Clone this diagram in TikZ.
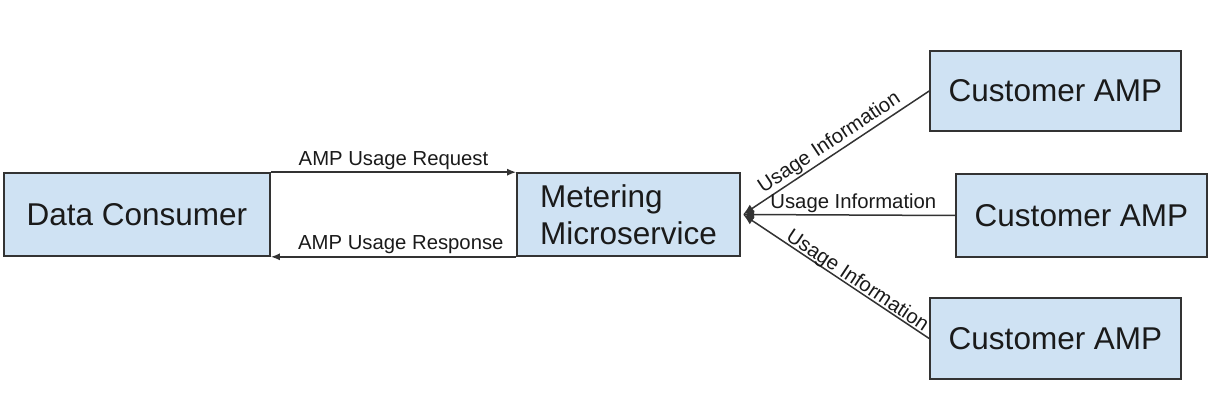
\documentclass[tikz,border=0pt]{standalone}
\usepackage{fontspec}
\setmainfont{Liberation Sans}
\usetikzlibrary{arrows.meta}
\definecolor{boxfill}{HTML}{CFE2F3}
\definecolor{boxline}{HTML}{333333}
\definecolor{txt}{HTML}{1A1A1A}
\tikzset{
  blk/.style={draw=boxline, line width=1.6pt, fill=boxfill, text=txt, inner sep=0pt,
    font=\fontsize{31.5}{37}\selectfont, align=left},
  conn/.style={draw=boxline, line width=1.5pt},
  lbl/.style={text=txt, font=\fontsize{20.3}{23}\selectfont, inner sep=2pt},
  tip/.style={-{Latex[length=9pt,width=7pt]}},
  hubtip/.style={-{Latex[length=11pt,width=9pt]}}
}
\begin{document}
\begin{tikzpicture}[x=1pt,y=-1pt]
\useasboundingbox (0,0) rectangle (1220,414);
\node[blk, minimum width=266pt, minimum height=83pt] (dc) at (137,214.5) {Data Consumer};
\node[blk, minimum width=223pt, minimum height=83pt] (ms) at (628.5,214.5) {Metering\\Microservice};
\node[blk, minimum width=251pt, minimum height=80pt] (ca1) at (1055.5,91) {Customer AMP};
\node[blk, minimum width=251pt, minimum height=83pt] (ca2) at (1081.5,215.5) {Customer AMP};
\node[blk, minimum width=251pt, minimum height=81pt] (ca3) at (1055.5,338.5) {Customer AMP};
\coordinate (hub) at (743,214.5);
\draw[conn,tip] (dc.north east) -- node[lbl,above,pos=0.5] {AMP Usage Request} (ms.north west);
\draw[conn,tip] (ms.south west) -- node[lbl,above,pos=0.47] {AMP Usage Response} (dc.south east);
\draw[conn,hubtip] (ca1.west) -- (hub);
\draw[conn,hubtip] (ca2.west) -- (hub);
\draw[conn,hubtip] (ca3.west) -- (hub);
\path (hub) -- node[lbl,sloped,above,pos=0.5] {Usage Information} (ca1.west);
\path (hub) -- node[lbl,above,pos=0.52] {Usage Information} (ca2.west);
\path (hub) -- node[lbl,sloped,above,pos=0.59,yshift=-4pt] {Usage Information} (ca3.west);
\end{tikzpicture}
\end{document}
